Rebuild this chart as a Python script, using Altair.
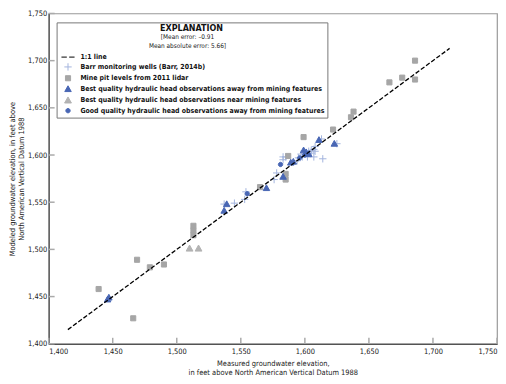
import altair as alt
import pandas as pd

FONT = "DejaVu Sans Condensed, Liberation Sans Narrow, sans-serif"

series_names = [
    "1:1 line",
    "Barr monitoring wells (Barr, 2014b)",
    "Mine pit levels from 2011 lidar",
    "Best quality hydraulic head observations away from mining features",
    "Best quality hydraulic head observations near mining features",
    "Good quality hydraulic head observations away from mining features",
]

# 1:1 line end points (feet)
line_vals = [1415, 1713]

# Barr monitoring wells
barr_x = [1537, 1545, 1554, 1553, 1613, 1625, 1583, 1585, 1603, 1605, 1608, 1608,
          1607, 1614, 1595, 1598, 1602, 1594, 1578, 1576, 1597, 1605, 1583, 1607]
barr_y = [1548, 1549, 1561, 1553, 1617, 1612, 1595, 1598, 1604, 1605, 1604, 1609,
          1598, 1596, 1597, 1598, 1598, 1594, 1581, 1574, 1601, 1602, 1598, 1606]

# Mine pit levels
pit_x = [1439, 1466, 1469, 1479, 1490, 1513, 1513, 1513, 1565, 1587, 1585, 1585,
         1599, 1622, 1636, 1638, 1666, 1676, 1686, 1686]
pit_y = [1458, 1427, 1489, 1481, 1484, 1525, 1520, 1515, 1566, 1599, 1580, 1574,
         1619, 1627, 1640, 1646, 1677, 1682, 1700, 1680]

# Best quality, away from mining features
best_away_x = [1447, 1446, 1539, 1537, 1570, 1583, 1591, 1589, 1599, 1601, 1603, 1611, 1623]
best_away_y = [1449, 1447, 1548, 1541, 1565, 1577, 1593, 1592, 1605, 1603, 1601, 1616, 1612]

# Best quality, near mining features
best_near_x = [1510, 1517]
best_near_y = [1501, 1501]

# Good quality, away from mining features
good_x = [1555, 1581, 1600, 1596]
good_y = [1559, 1590, 1600, 1597]

mean_error_text = "[Mean error: \u20130.91\nMean absolute error: 5.66]"
axis_ticks = [1400, 1450, 1500, 1550, 1600, 1650, 1700, 1750]

rows = []
for name, xs_, ys_ in [
    (series_names[1], barr_x, barr_y),
    (series_names[2], pit_x, pit_y),
    (series_names[3], best_away_x, best_away_y),
    (series_names[4], best_near_x, best_near_y),
    (series_names[5], good_x, good_y),
]:
    for a, b in zip(xs_, ys_):
        rows.append({"series": name, "measured": a, "modeled": b})
df = pd.DataFrame(rows)
line_df = pd.DataFrame({"measured": line_vals, "modeled": line_vals})
note_df = pd.DataFrame({"t": [mean_error_text]})
tick_df = pd.DataFrame({"measured": axis_ticks, "modeled": axis_ticks})

W, H = 452, 333

LINE_PATH = "M-2.2,0H-0.4M0.4,0H2.2"
PLUS_PATH = "M-1.15,0H1.15M0,-1.15V1.15"
SQUARE_PATH = "M-0.75,-0.75H0.75V0.75H-0.75Z"
TRI_PATH = "M0,-0.9L0.9,0.7H-0.9Z"
DOT_PATH = "M-0.55,0A0.55,0.55,0,1,0,0.55,0A0.55,0.55,0,1,0,-0.55,0Z"

shape_range = [LINE_PATH, PLUS_PATH, SQUARE_PATH, TRI_PATH, TRI_PATH, DOT_PATH]
stroke_range = ["#000000", "#a3b4de", "#a6a6a6", "#4866b4", "#b3b3b3", "#4866b4"]
fill_range = ["transparent", "transparent", "#a6a6a6", "#4866b4", "#b3b3b3", "#4866b4"]
size_range = [36, 64, 40, 42, 40, 36]

dom = [1400, 1750]
xs = alt.Scale(domain=dom, nice=False, zero=False)
ys = alt.Scale(domain=dom, nice=False, zero=False)

x_title = ["Measured groundwater elevation,", "in feet above North American Vertical Datum 1988"]
y_title = ["Modeled groundwater elevation, in feet above", "North American Vertical Datum 1988"]

x_axis = alt.Axis(values=axis_ticks, format=",d", ticks=False, labelPadding=4,
                  title=x_title, titlePadding=4)
y_axis = alt.Axis(values=axis_ticks, format=",d", ticks=False, labelPadding=2,
                  title=y_title, titlePadding=2)

leg = alt.Legend(title="EXPLANATION")

points = alt.Chart(df).mark_point(filled=False, strokeWidth=1, opacity=1).encode(
    x=alt.X("measured:Q", scale=xs, axis=x_axis),
    y=alt.Y("modeled:Q", scale=ys, axis=y_axis),
    color=alt.Color("series:N", scale=alt.Scale(domain=series_names, range=stroke_range), legend=leg),
    fill=alt.Fill("series:N", scale=alt.Scale(domain=series_names, range=fill_range), legend=leg),
    shape=alt.Shape("series:N", scale=alt.Scale(domain=series_names, range=shape_range), legend=leg),
    size=alt.Size("series:N", scale=alt.Scale(domain=series_names, range=size_range), legend=None),
)

line = alt.Chart(line_df).mark_line(color="black", strokeDash=[4.5, 2], strokeWidth=1.3).encode(
    x=alt.X("measured:Q", scale=xs, axis=x_axis),
    y=alt.Y("modeled:Q", scale=ys, axis=y_axis),
)

x_ticks_layer = alt.Chart(tick_df).mark_rule(color="#aaa", strokeWidth=1.5).encode(
    x=alt.X("measured:Q", scale=xs, axis=x_axis),
    y=alt.value(H), y2=alt.value(H - 6),
)
y_ticks_layer = alt.Chart(tick_df).mark_rule(color="#aaa", strokeWidth=1.5).encode(
    y=alt.Y("modeled:Q", scale=ys, axis=y_axis),
    x=alt.value(0), x2=alt.value(6),
)

note = alt.Chart(note_df).mark_text(
    lineBreak="\n", align="center", baseline="top", font=FONT, fontSize=6.5,
    color="#222222", lineHeight=8.5,
).encode(x=alt.value(140), y=alt.value(21), text="t:N")

chart = alt.layer(points, line, x_ticks_layer, y_ticks_layer, note).properties(
    width=W, height=H, padding=0,
).configure_view(
    stroke="#999", strokeWidth=1.2
).configure_axis(
    grid=False, domainColor="#333", domainWidth=1,
    labelFont=FONT, labelFontSize=7.5, labelColor="#222",
    titleFont=FONT, titleFontSize=7.5, titleFontWeight="normal", titleColor="#222",
    titleLineHeight=9,
).configure_legend(
    orient="none", legendX=8, legendY=9, strokeColor="#777",
    padding=2, titleFont=FONT, titleFontSize=9, titleFontWeight="bold",
    titleAnchor="middle", titleAlign="center", titlePadding=20.5, titleColor="#111",
    labelFont=FONT, labelFontSize=7, labelFontWeight="bold", labelColor="#111",
    labelLimit=400, symbolSize=36, symbolStrokeWidth=1, rowPadding=0.4,
    symbolOffset=5, labelOffset=8,
)

chart.save("out.html", embed_options={"renderer": "svg", "actions": False})
